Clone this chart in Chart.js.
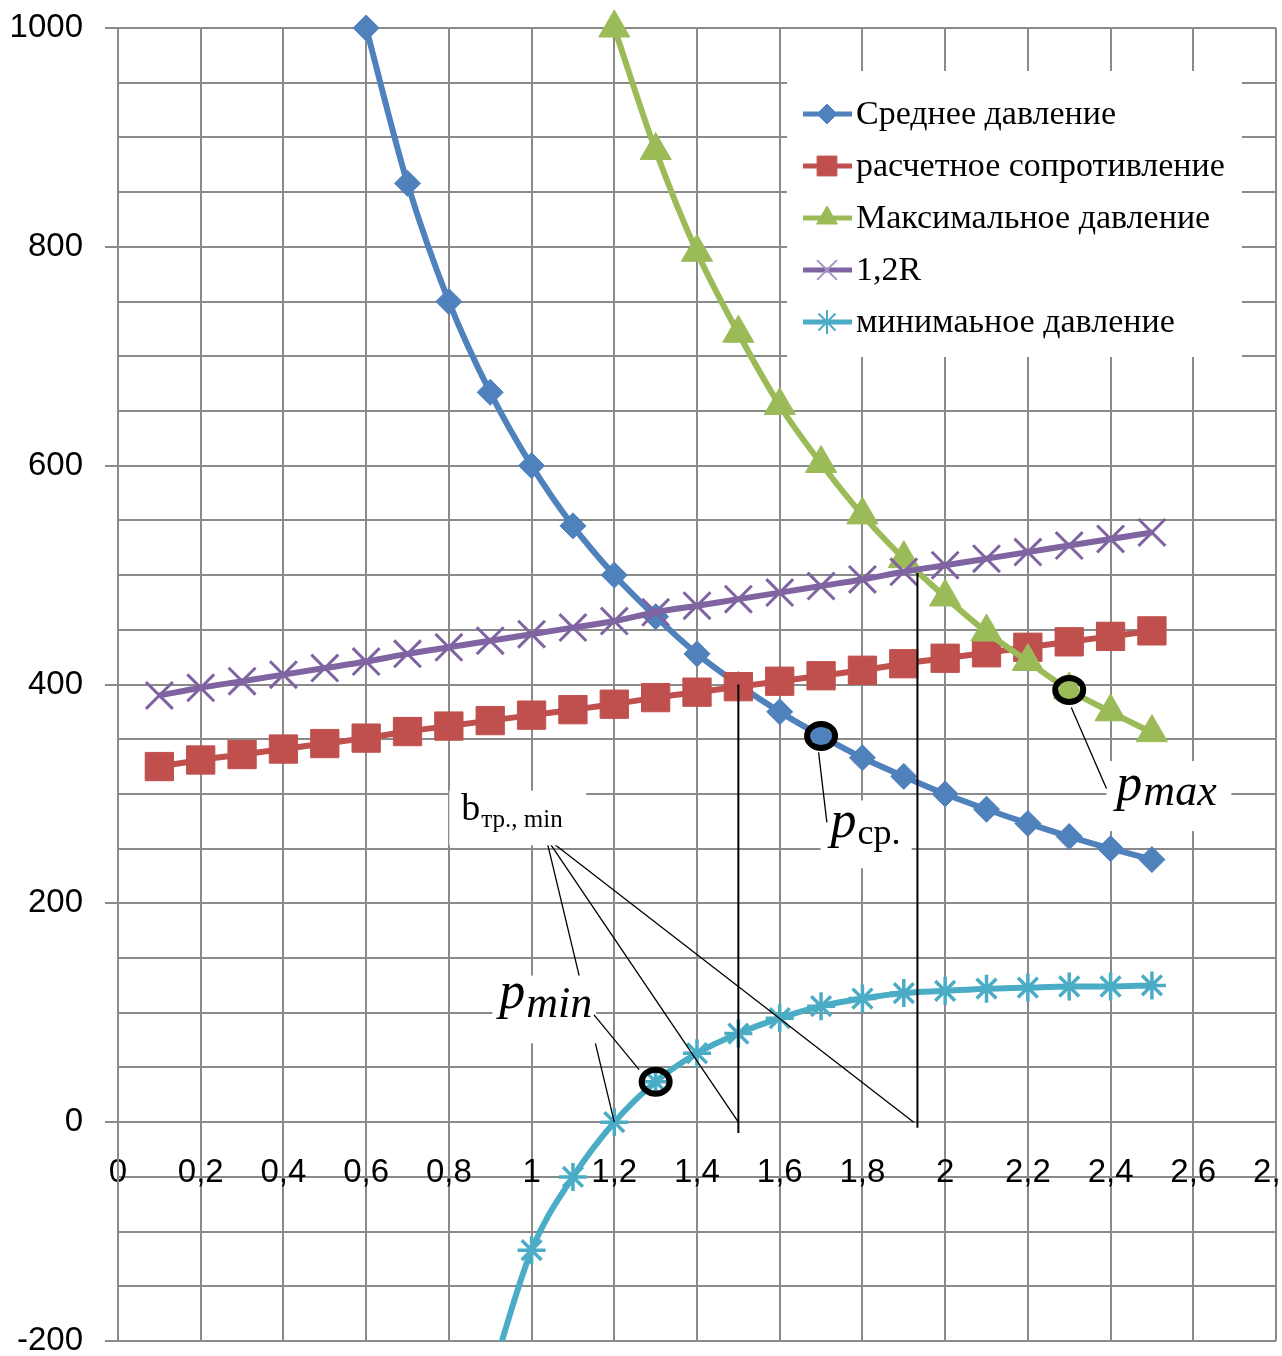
<!DOCTYPE html>
<html>
<head>
<meta charset="utf-8">
<script src="https://cdn.jsdelivr.net/npm/chart.js@4.4.0/dist/chart.umd.min.js"></script>
<style>
  html, body { margin: 0; padding: 0; background: #fff; overflow: hidden; }
  #wrap { position: relative; width: 1282px; height: 1356px; }
</style>
</head>
<body>
<div id="wrap"><canvas id="chart" width="1282" height="1356"></canvas></div>
<script>
// ширина подошвы b, м
const xValues = [0.1, 0.2, 0.3, 0.4, 0.5, 0.6, 0.7, 0.8, 0.9, 1.0, 1.1, 1.2, 1.3,
                 1.4, 1.5, 1.6, 1.7, 1.8, 1.9, 2.0, 2.1, 2.2, 2.3, 2.4, 2.5];

const meanPressure = [null, null, null, null, null, 1000, 858, 750, 667, 600, 545, 500, 462,
                      428, 400, 375, 353, 333, 316, 300, 286, 273, 261, 250, 240];
const resistanceR  = [325, 331, 336, 341, 346, 351, 357, 362, 367, 372, 377, 382, 388,
                      393, 398, 403, 408, 413, 419, 424, 429, 434, 439, 444, 449];
const maxPressure  = [null, null, null, null, null, null, null, null, null, null, null, 1000, 888,
                      795, 721, 655, 602, 555, 515, 480, 448, 421, 395, 375, 356];
const resistance12 = [390, 397, 403, 409, 415, 421, 428, 434, 440, 446, 452, 458, 466,
                      472, 478, 484, 490, 496, 503, 509, 515, 521, 527, 533, 539];
const minPressure  = [null, null, null, null, null, null, null, null, -235, -117, -50, 0, 37,
                      63, 81, 95, 106, 113, 118, 120, 122, 123, 124, 124, 125];

const seriesNames = ['Среднее давление', 'расчетное сопротивление', 'Максимальное давление',
                     '1,2R', 'минимаьное давление'];

const xMin = 0, xMax = 2.8, xStep = 0.2;
const yMin = -200, yMax = 1000, yStep = 50, yLabelStep = 200;

const GRID = '#8a8a8a';
const SANS = '"Liberation Sans", Arial, sans-serif';
const SERIF = '"Liberation Serif", "Times New Roman", serif';

function pts(arr) {
  return xValues.map((x, i) => ({ x: x, y: arr[i] }));
}

const styles = [
  { color: '#4F81BD', mark: '#4F81BD', legendMark: '#4F81BD', pointStyle: 'rectRot', r: 13, bw: 1, lr: 10 },
  { color: '#C0504D', mark: '#C0504D', legendMark: '#C0504D', pointStyle: 'rect', r: 20, bw: 1, lr: 14 },
  { color: '#9BBB59', mark: '#9BBB59', legendMark: '#9BBB59', pointStyle: 'triangle', r: 18, bw: 1, lr: 12 },
  { color: '#8064A2', mark: '#8064A2', legendMark: '#a593c4', pointStyle: 'crossRot', r: 19, bw: 3, lr: 14 },
  { color: '#4BACC6', mark: '#4BACC6', legendMark: '#4BACC6', pointStyle: 'star', r: 14, bw: 3.5, lr: 12 }
];

const seriesData = [meanPressure, resistanceR, maxPressure, resistance12, minPressure];

const datasets = seriesData.map((arr, i) => {
  const s = styles[i];
  return {
    label: seriesNames[i],
    data: pts(arr),
    order: seriesData.length - i,
    borderColor: s.color,
    backgroundColor: s.mark,
    borderWidth: 6,
    cubicInterpolationMode: 'monotone',
    pointStyle: s.pointStyle,
    pointRadius: s.r,
    pointBackgroundColor: s.mark,
    pointBorderColor: s.mark,
    pointBorderWidth: s.bw,
    clip: i === 4 ? { left: 0, right: 0, top: 0, bottom: 0 } : false
  };
});

// подписи и выноски (координаты в единицах осей)
const rings = [ { x: 2.3, y: 395 }, { x: 1.7, y: 353 }, { x: 1.3, y: 37 } ];
const verticals = [ { x: 1.5, y1: 400, y2: -10 }, { x: 1.933, y1: 502, y2: -5 } ];
const leaders = [
  { x1: 1.035, y1: 260, x2: 1.2, y2: 0 },
  { x1: 1.035, y1: 260, x2: 1.5, y2: 0 },
  { x1: 1.035, y1: 260, x2: 1.924, y2: 0 },
  { x1: 2.390, y1: 305, x2: 2.305, y2: 379 },
  { x1: 1.714, y1: 274, x2: 1.694, y2: 338 },
  { x1: 1.151, y1: 98, x2: 1.260, y2: 48 }
];
const labels = [
  { box: [2.390, 330, 2.692, 266], x: 2.414, y: 294, main: 'p', sub: 'max',
    mainFont: 'italic 52px ' + SERIF, subFont: 'italic 44px ' + SERIF, subDy: 5 },
  { box: [1.699, 294, 1.919, 232], x: 1.723, y: 261, main: 'p', sub: 'ср.',
    mainFont: 'italic 52px ' + SERIF, subFont: '36px ' + SERIF, subDy: 7 },
  { box: [0.905, 134, 1.156, 72], x: 0.922, y: 104, main: 'p', sub: 'min',
    mainFont: 'italic 52px ' + SERIF, subFont: 'italic 44px ' + SERIF, subDy: 9 },
  { box: [0.801, 303, 1.132, 253], x: 0.830, y: 276, main: 'b', sub: 'тр., min',
    mainFont: '38px ' + SERIF, subFont: '25px ' + SERIF, subDy: 7 }
];

function drawMarker(ctx, style, r, x, y, fill, stroke, bw) {
  ctx.save();
  ctx.fillStyle = fill;
  ctx.strokeStyle = stroke;
  ctx.lineWidth = bw;
  if (Chart.helpers && Chart.helpers.drawPoint) {
    Chart.helpers.drawPoint(ctx, { pointStyle: style, radius: r, rotation: 0, borderWidth: bw }, x, y);
  } else {
    ctx.beginPath(); ctx.arc(x, y, r * 0.7, 0, Math.PI * 2); ctx.fill();
  }
  ctx.restore();
}

const annotationsPlugin = {
  id: 'annotationsPlugin',
  afterDatasetsDraw(chart) {
    const ctx = chart.ctx;
    const xs = chart.scales.x, ys = chart.scales.y;
    const px = v => xs.getPixelForValue(v);
    const py = v => ys.getPixelForValue(v);
    ctx.save();
    ctx.strokeStyle = '#000';
    ctx.lineWidth = 2;
    verticals.forEach(v => {
      ctx.beginPath();
      ctx.moveTo(px(v.x), py(v.y1));
      ctx.lineTo(px(v.x), py(v.y2));
      ctx.stroke();
    });
    ctx.lineWidth = 1.3;
    leaders.slice(0, 3).forEach(l => {
      ctx.beginPath();
      ctx.moveTo(px(l.x1), py(l.y1));
      ctx.lineTo(px(l.x2), py(l.y2));
      ctx.stroke();
    });
    // белые подложки подписей
    labels.forEach(lb => {
      const x1 = px(lb.box[0]), y1 = py(lb.box[1]);
      const x2 = px(lb.box[2]), y2 = py(lb.box[3]);
      ctx.fillStyle = '#fff';
      ctx.fillRect(x1, y1, x2 - x1, y2 - y1);
    });
    leaders.slice(3).forEach(l => {
      ctx.beginPath();
      ctx.moveTo(px(l.x1), py(l.y1));
      ctx.lineTo(px(l.x2), py(l.y2));
      ctx.stroke();
    });
    labels.forEach(lb => {
      ctx.fillStyle = '#000';
      ctx.textBaseline = 'alphabetic';
      ctx.textAlign = 'left';
      ctx.font = lb.mainFont;
      const x = px(lb.x), y = py(lb.y);
      ctx.fillText(lb.main, x, y);
      const w = ctx.measureText(lb.main).width;
      ctx.font = lb.subFont;
      ctx.fillText(lb.sub, x + w + 1, y + lb.subDy);
    });
    ctx.lineWidth = 6;
    rings.forEach(r => {
      ctx.beginPath();
      ctx.ellipse(px(r.x), py(r.y), 14, 12, 0, 0, Math.PI * 2);
      ctx.stroke();
    });
    ctx.restore();
  }
};

const legendPlugin = {
  id: 'legendPlugin',
  afterDraw(chart) {
    const ctx = chart.ctx;
    const box = { left: 787, top: 71, right: 1242, bottom: 357 };
    ctx.save();
    ctx.fillStyle = '#fff';
    ctx.fillRect(box.left, box.top, box.right - box.left, box.bottom - box.top);
    ctx.font = '34px ' + SERIF;
    ctx.textBaseline = 'middle';
    ctx.textAlign = 'left';
    chart.data.datasets.forEach((ds, i) => {
      const s = styles[i];
      const y = 114 + i * 52;
      ctx.strokeStyle = s.color;
      ctx.lineWidth = 5;
      ctx.beginPath();
      ctx.moveTo(803, y);
      ctx.lineTo(852, y);
      ctx.stroke();
      drawMarker(ctx, s.pointStyle, s.lr, 827, y, s.legendMark, s.legendMark, s.bw > 1 ? 2 : 1);
      ctx.fillStyle = '#000';
      ctx.fillText(ds.label, 856, y + 1);
    });
    ctx.restore();
  }
};

new Chart(document.getElementById('chart').getContext('2d'), {
  type: 'line',
  data: { datasets: datasets },
  options: {
    responsive: false,
    animation: false,
    devicePixelRatio: 1,
    layout: { autoPadding: false, padding: { top: 28, bottom: 15, left: 0, right: 6 } },
    plugins: { legend: { display: false }, tooltip: { enabled: false } },
    scales: {
      x: {
        type: 'linear',
        position: { y: 0 },
        min: xMin,
        max: xMax,
        grid: { color: GRID, lineWidth: 2, drawTicks: false },
        border: { color: GRID, width: 2 },
        ticks: {
          stepSize: xStep,
          padding: 31,
          color: '#000',
          font: { family: SANS, size: 33 },
          maxRotation: 0,
          autoSkip: false,
          callback: v => String(Math.round(v * 10) / 10).replace('.', ',')
        },
        afterFit(scale) {
          scale.paddingLeft = 0;
          scale.paddingRight = 0;
          scale.paddingTop = 0;
          scale.paddingBottom = 0;
        }
      },
      y: {
        type: 'linear',
        min: yMin,
        max: yMax,
        grid: {
          color: GRID,
          lineWidth: 2,
          tickLength: 13,
          tickColor: c => (c.tick && c.tick.value % yLabelStep === 0) ? GRID : 'rgba(0,0,0,0)'
        },
        border: { color: GRID, width: 2 },
        ticks: {
          stepSize: yStep,
          padding: 22,
          color: '#000',
          font: { family: SANS, size: 33 },
          autoSkip: false,
          callback: v => (v % yLabelStep === 0) ? String(v) : ''
        },
        afterFit(scale) {
          scale.width = 118;
          scale.paddingTop = 0;
          scale.paddingBottom = 0;
        }
      }
    }
  },
  plugins: [annotationsPlugin, legendPlugin]
});
</script>
</body>
</html>
